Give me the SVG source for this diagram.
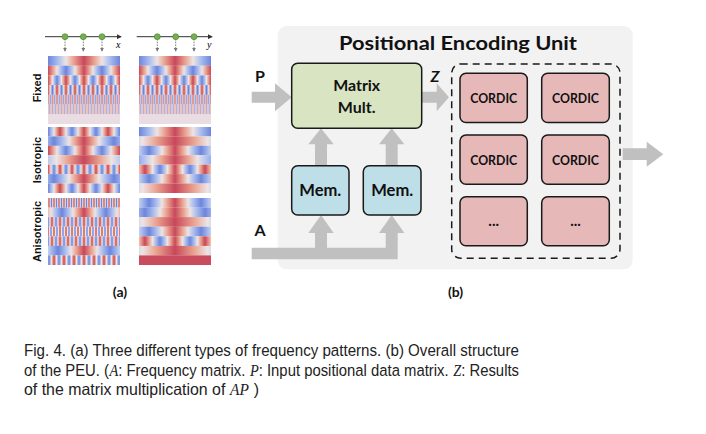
<svg xmlns="http://www.w3.org/2000/svg" width="706" height="434" viewBox="0 0 706 434">
<style>
.lbl{font-family:Lato,"Liberation Sans",sans-serif;font-weight:bold;fill:#111;text-anchor:middle}
.box{stroke:#1a1a1a;stroke-width:1.5}
.arr{fill:#c0c0c0}
.cap{font-family:"Liberation Sans",Arial,sans-serif;font-size:16.5px;fill:#222}
.it{font-family:"Liberation Serif",serif;font-style:italic;font-size:16px;fill:#222}
.ax{stroke:#333;stroke-width:1}
.dd{stroke:#777;stroke-width:1;stroke-dasharray:1.5,1.2}
.dot{fill:#74b04c;stroke:#4e8030;stroke-width:0.6}
.rl{font-family:"Liberation Sans",Arial,sans-serif;font-weight:bold;font-size:11px;fill:#111;text-anchor:middle}
</style>
<defs>
<linearGradient id="cw">
<stop offset="0" stop-color="#c8475b"/>
<stop offset="0.14" stop-color="#e9a08e"/>
<stop offset="0.25" stop-color="#ede4e4"/>
<stop offset="0.36" stop-color="#a9bdee"/>
<stop offset="0.5" stop-color="#6d85dc"/>
<stop offset="0.64" stop-color="#a9bdee"/>
<stop offset="0.75" stop-color="#ede4e4"/>
<stop offset="0.86" stop-color="#e9a08e"/>
<stop offset="1" stop-color="#c8475b"/>
</linearGradient>
<pattern id="p2" patternUnits="userSpaceOnUse" x="36" width="2" height="100"><rect width="2" height="100" fill="url(#cw)"/></pattern>
<pattern id="p3" patternUnits="userSpaceOnUse" x="36" width="3" height="100"><rect width="3" height="100" fill="url(#cw)"/></pattern>
<pattern id="p4" patternUnits="userSpaceOnUse" x="36" width="4.5" height="100"><rect width="4.5" height="100" fill="url(#cw)"/></pattern>
<pattern id="p5" patternUnits="userSpaceOnUse" x="36" width="5" height="100"><rect width="5" height="100" fill="url(#cw)"/></pattern>
<pattern id="p6" patternUnits="userSpaceOnUse" x="36" width="6" height="100"><rect width="6" height="100" fill="url(#cw)"/></pattern>
<pattern id="p8" patternUnits="userSpaceOnUse" x="36" width="8" height="100"><rect width="8" height="100" fill="url(#cw)"/></pattern>
<pattern id="p9" patternUnits="userSpaceOnUse" x="36" width="9" height="100"><rect width="9" height="100" fill="url(#cw)"/></pattern>
<pattern id="p10" patternUnits="userSpaceOnUse" x="36" width="10" height="100"><rect width="10" height="100" fill="url(#cw)"/></pattern>
<pattern id="p12" patternUnits="userSpaceOnUse" x="36" width="12" height="100"><rect width="12" height="100" fill="url(#cw)"/></pattern>
<pattern id="p18" patternUnits="userSpaceOnUse" x="36" width="18" height="100"><rect width="18" height="100" fill="url(#cw)"/></pattern>
<pattern id="p24" patternUnits="userSpaceOnUse" x="36" width="24" height="100"><rect width="24" height="100" fill="url(#cw)"/></pattern>
<pattern id="p30" patternUnits="userSpaceOnUse" x="36" width="30" height="100"><rect width="30" height="100" fill="url(#cw)"/></pattern>
<pattern id="p36" patternUnits="userSpaceOnUse" x="36" width="36" height="100"><rect width="36" height="100" fill="url(#cw)"/></pattern>
<pattern id="p44" patternUnits="userSpaceOnUse" x="36" width="44" height="100"><rect width="44" height="100" fill="url(#cw)"/></pattern>
<pattern id="p52" patternUnits="userSpaceOnUse" x="36" width="52" height="100"><rect width="52" height="100" fill="url(#cw)"/></pattern>
<pattern id="p60" patternUnits="userSpaceOnUse" x="36" width="60" height="100"><rect width="60" height="100" fill="url(#cw)"/></pattern>
<pattern id="p72" patternUnits="userSpaceOnUse" x="36" width="72" height="100"><rect width="72" height="100" fill="url(#cw)"/></pattern>
<pattern id="p90" patternUnits="userSpaceOnUse" x="36" width="90" height="100"><rect width="90" height="100" fill="url(#cw)"/></pattern>
<pattern id="p110" patternUnits="userSpaceOnUse" x="36" width="110" height="100"><rect width="110" height="100" fill="url(#cw)"/></pattern>
<pattern id="p130" patternUnits="userSpaceOnUse" x="36" width="130" height="100"><rect width="130" height="100" fill="url(#cw)"/></pattern>
<marker id="ah" viewBox="0 0 6 6" refX="5" refY="3" markerWidth="5" markerHeight="5" orient="auto"><path d="M0,0L6,3L0,6z" fill="#333"/></marker>
<marker id="ahs" viewBox="0 0 6 6" refX="5" refY="3" markerWidth="4" markerHeight="4" orient="auto"><path d="M0,0L6,3L0,6z" fill="#777"/></marker>
</defs>

<!-- Panel (a) -->
<g id="panel-a">
<g id="axis-x">
<line class="ax" x1="45" y1="36.7" x2="121" y2="36.7" marker-end="url(#ah)"/>
<line class="dd" x1="65" y1="39" x2="65" y2="51" marker-end="url(#ahs)"/>
<line class="dd" x1="83.3" y1="39" x2="83.3" y2="51" marker-end="url(#ahs)"/>
<line class="dd" x1="102" y1="39" x2="102" y2="51" marker-end="url(#ahs)"/>
<circle class="dot" cx="65" cy="36.7" r="3"/>
<circle class="dot" cx="83.3" cy="36.7" r="3"/>
<circle class="dot" cx="102" cy="36.7" r="3"/>
<text x="116" y="47.5" font-family="Liberation Serif,serif" font-style="italic" font-size="10">x</text>
</g>
<g id="axis-y">
<line class="ax" x1="136.7" y1="36.7" x2="212" y2="36.7" marker-end="url(#ah)"/>
<line class="dd" x1="157.3" y1="39" x2="157.3" y2="51" marker-end="url(#ahs)"/>
<line class="dd" x1="175.7" y1="39" x2="175.7" y2="51" marker-end="url(#ahs)"/>
<line class="dd" x1="194" y1="39" x2="194" y2="51" marker-end="url(#ahs)"/>
<circle class="dot" cx="157.3" cy="36.7" r="3"/>
<circle class="dot" cx="175.7" cy="36.7" r="3"/>
<circle class="dot" cx="194" cy="36.7" r="3"/>
<text x="207" y="47.5" font-family="Liberation Serif,serif" font-style="italic" font-size="10">y</text>
</g>

<text class="rl" transform="translate(40.5,88) rotate(-90)">Fixed</text>
<text class="rl" transform="translate(40.5,160) rotate(-90)">Isotropic</text>
<text class="rl" transform="translate(40.5,231.5) rotate(-90)">Anisotropic</text>

<!-- Fixed left -->
<g id="fixed-x" transform="translate(48,56)">
<rect y="0" width="72" height="9.8" fill="url(#p72)"/>
<rect y="9.7" width="72" height="9.8" fill="url(#p36)"/>
<rect y="19.4" width="72" height="9.8" fill="url(#p18)"/>
<rect y="29.1" width="72" height="9.8" fill="url(#p9)"/>
<rect y="38.9" width="72" height="9.8" fill="url(#p4)"/>
<rect y="48.6" width="72" height="9.8" fill="url(#p3)"/>
<rect y="58.3" width="72" height="9.7" fill="url(#p2)"/>
<rect y="48.6" width="72" height="19.4" fill="#e6d6e2" opacity="0.55"/>
<rect y="38.9" width="72" height="9.7" fill="#e6d6e2" opacity="0.2"/>
</g>
<!-- Fixed right -->
<g id="fixed-y" transform="translate(139,56)">
<rect y="0" width="72" height="9.8" fill="url(#p72)"/>
<rect y="9.7" width="72" height="9.8" fill="url(#p36)"/>
<rect y="19.4" width="72" height="9.8" fill="url(#p18)"/>
<rect y="29.1" width="72" height="9.8" fill="url(#p9)"/>
<rect y="38.9" width="72" height="9.8" fill="url(#p4)"/>
<rect y="48.6" width="72" height="9.8" fill="url(#p3)"/>
<rect y="58.3" width="72" height="9.7" fill="url(#p2)"/>
<rect y="48.6" width="72" height="19.4" fill="#e6d6e2" opacity="0.55"/>
<rect y="38.9" width="72" height="9.7" fill="#e6d6e2" opacity="0.2"/>
</g>
<!-- Isotropic left -->
<g id="iso-x" transform="translate(48,127)">
<rect y="0" width="72" height="9.5" fill="url(#p24)"/>
<rect y="9.4" width="72" height="9.5" fill="url(#p60)"/>
<rect y="18.8" width="72" height="9.5" fill="url(#p36)"/>
<rect y="28.2" width="72" height="9.5" fill="url(#p110)"/>
<rect y="37.7" width="72" height="9.5" fill="url(#p12)"/>
<rect y="47.1" width="72" height="9.5" fill="url(#p60)"/>
<rect y="56.5" width="72" height="9.5" fill="url(#p24)"/>
</g>
<!-- Isotropic right -->
<g id="iso-y" transform="translate(139,127)">
<rect y="0" width="72" height="9.5" fill="url(#p72)"/>
<rect y="9.4" width="72" height="9.5" fill="url(#p130)"/>
<rect y="18.8" width="72" height="9.5" fill="url(#p52)"/>
<rect y="28.2" width="72" height="9.5" fill="url(#p90)"/>
<rect y="37.7" width="72" height="9.5" fill="url(#p30)"/>
<rect y="47.1" width="72" height="9.5" fill="url(#p52)"/>
<rect y="56.5" width="72" height="9.5" fill="url(#p130)"/>
</g>
<!-- Anisotropic left -->
<g id="aniso-x" transform="translate(48,198)">
<rect y="0" width="72" height="9.7" fill="url(#p5)"/>
<rect y="9.6" width="72" height="9.7" fill="url(#p44)"/>
<rect y="19.1" width="72" height="9.7" fill="url(#p8)"/>
<rect y="28.7" width="72" height="9.7" fill="url(#p6)"/>
<rect y="38.3" width="72" height="9.7" fill="url(#p8)"/>
<rect y="47.9" width="72" height="9.7" fill="url(#p52)"/>
<rect y="57.4" width="72" height="9.6" fill="url(#p10)"/>
</g>
<!-- Anisotropic right -->
<g id="aniso-y" transform="translate(139,198)">
<rect y="0" width="72" height="9.7" fill="url(#p52)"/>
<rect y="9.6" width="72" height="9.7" fill="url(#p60)"/>
<rect y="19.1" width="72" height="9.7" fill="url(#p130)"/>
<rect y="28.7" width="72" height="9.7" fill="url(#p52)"/>
<rect y="38.3" width="72" height="9.7" fill="url(#p30)"/>
<rect y="47.9" width="72" height="9.7" fill="url(#p130)"/>
<rect y="57.4" width="72" height="9.6" fill="#c94c5e"/>
</g>
<text class="lbl" x="120" y="297" font-size="14">(a)</text>
</g>

<!-- Panel (b) -->
<g id="peu-bg">
<rect x="277.7" y="26" width="355" height="243.3" rx="9" fill="#f2f2f2"/>
<text class="lbl" x="458" y="50" font-size="19.5" textLength="238" lengthAdjust="spacingAndGlyphs">Positional Encoding Unit</text>
</g>

<g id="connectors">
<polygon class="arr" points="251.7,91.7 275,91.7 275,83.3 291.7,97.2 275,111.2 275,102.7 251.7,102.7"/>
<polygon class="arr" points="421.7,91.7 436.7,91.7 436.7,83.3 449,97.2 436.7,111.2 436.7,102.7 421.7,102.7"/>
<polygon class="arr" points="315,165.7 315,144.3 308.3,144.3 321,128.3 333.7,144.3 327,144.3 327,165.7"/>
<polygon class="arr" points="385.7,165.7 385.7,144.3 379,144.3 391.7,128.3 404.4,144.3 397.7,144.3 397.7,165.7"/>
<polygon class="arr" points="251.7,247.7 315,247.7 315,233 308.3,233 321,215 333.7,233 327,233 327,247.7 385.7,247.7 385.7,233 379,233 391.7,215 404.4,233 397.7,233 397.7,259.3 251.7,259.3"/>
<polygon class="arr" points="622.7,148.3 646.7,148.3 646.7,141.7 663.3,154.2 646.7,166.7 646.7,160 622.7,160"/>
</g>

<text class="lbl" x="260" y="82" font-size="16">P</text>
<text class="lbl" x="260" y="236" font-size="16">A</text>
<text class="lbl" x="435" y="82" font-size="16" font-style="italic">Z</text>

<g id="matrix-mult">
<rect class="box" x="291.7" y="63.3" width="130" height="65" rx="6" fill="#d8e4c2"/>
<text class="lbl" x="356.7" y="91" font-size="16" textLength="47" lengthAdjust="spacingAndGlyphs">Matrix</text>
<text class="lbl" x="356.7" y="112.5" font-size="16">Mult.</text>
</g>
<g id="mem-1">
<rect class="box" x="291.7" y="165.7" width="57.3" height="49.3" rx="6" fill="#bfdfe8"/>
<text class="lbl" x="320.3" y="196" font-size="17" textLength="42" lengthAdjust="spacingAndGlyphs">Mem.</text>
</g>
<g id="mem-2">
<rect class="box" x="363.3" y="165.7" width="57.7" height="49.3" rx="6" fill="#bfdfe8"/>
<text class="lbl" x="392.2" y="196" font-size="17" textLength="42" lengthAdjust="spacingAndGlyphs">Mem.</text>
</g>

<g id="cordic-array">
<rect x="451.7" y="64" width="168.3" height="194.3" rx="9" fill="none" stroke="#1a1a1a" stroke-width="1.5" stroke-dasharray="7,5"/>
</g>
<g id="cordic-1"><rect class="box" x="460" y="73.3" width="67.3" height="49.3" rx="6" fill="#e6b9b8"/><text class="lbl" x="493.7" y="102.8" font-size="14" textLength="47" lengthAdjust="spacingAndGlyphs">CORDIC</text></g>
<g id="cordic-2"><rect class="box" x="541.7" y="73.3" width="67.6" height="49.3" rx="6" fill="#e6b9b8"/><text class="lbl" x="575.5" y="102.8" font-size="14" textLength="47" lengthAdjust="spacingAndGlyphs">CORDIC</text></g>
<g id="cordic-3"><rect class="box" x="460" y="135" width="67.3" height="49.3" rx="6" fill="#e6b9b8"/><text class="lbl" x="493.7" y="164.5" font-size="14" textLength="47" lengthAdjust="spacingAndGlyphs">CORDIC</text></g>
<g id="cordic-4"><rect class="box" x="541.7" y="135" width="67.6" height="49.3" rx="6" fill="#e6b9b8"/><text class="lbl" x="575.5" y="164.5" font-size="14" textLength="47" lengthAdjust="spacingAndGlyphs">CORDIC</text></g>
<g id="cordic-5"><rect class="box" x="460" y="196.7" width="67.3" height="49" rx="6" fill="#e6b9b8"/><text class="lbl" x="493.7" y="226" font-size="15">...</text></g>
<g id="cordic-6"><rect class="box" x="541.7" y="196.7" width="67.6" height="49" rx="6" fill="#e6b9b8"/><text class="lbl" x="575.5" y="226" font-size="15">...</text></g>

<text class="lbl" x="455.5" y="297" font-size="14">(b)</text>

<g id="caption">
<g transform="translate(24,0) scale(0.9011,1)">
<text class="cap" x="0" y="356" textLength="549.3" lengthAdjust="spacingAndGlyphs">Fig. 4.  (a) Three different types of frequency patterns. (b) Overall structure</text>
<text class="cap" x="0" y="376">of the PEU. (</text>
<text class="it" x="94.9" y="376">A</text>
<text class="cap" x="104.6" y="376">: Frequency matrix.</text>
<text class="it" x="250.8" y="376">P</text>
<text class="cap" x="260.5" y="376">: Input positional data matrix.</text>
<text class="it" x="476.4" y="376">Z</text>
<text class="cap" x="485.2" y="376">: Results</text>
</g>
<g transform="translate(24,0) scale(0.9636,1)">
<text class="cap" x="0" y="395.5">of the matrix multiplication of</text>
<text class="it" x="213.8" y="395.5">AP</text>
<text class="cap" x="238.5" y="395.5">)</text>
</g>
</g>
</svg>
